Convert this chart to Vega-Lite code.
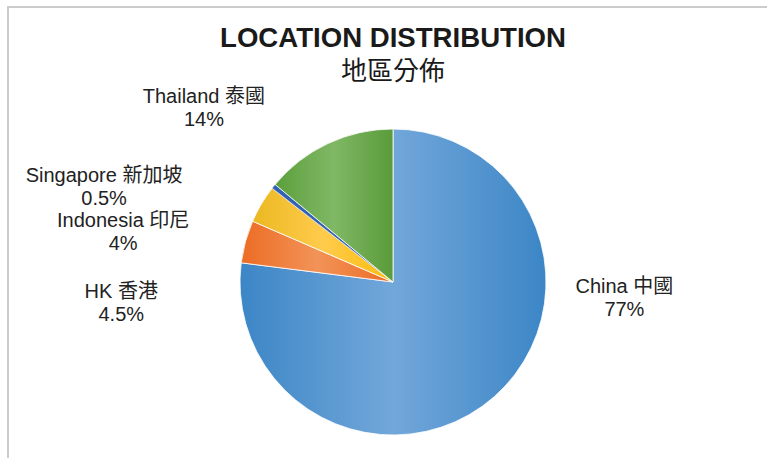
{
  "$schema": "https://vega.github.io/schema/vega-lite/v6.json",
  "autosize": "none",
  "padding": {"left": 8, "top": 7, "right": 0, "bottom": 0},
  "width": 770,
  "height": 550,
  "background": "white",
  "view": {"stroke": "#cccccc", "strokeWidth": 2, "fill": null},
  "title": {
    "text": "LOCATION DISTRIBUTION",
    "subtitle": "地區分佈",
    "anchor": "middle",
    "frame": "group",
    "orient": "top",
    "offset": -78,
    "font": "Liberation Sans",
    "fontSize": 27.6,
    "fontWeight": "bold",
    "color": "#1a1a1a",
    "subtitleFont": "Noto Sans CJK TC",
    "subtitleFontSize": 26,
    "subtitleColor": "#1a1a1a",
    "subtitlePadding": 6
  },
  "data": {
    "values": [
      {"location": "China 中國", "share": 77, "rank": 1},
      {"location": "HK 香港", "share": 4.5, "rank": 2},
      {"location": "Indonesia 印尼", "share": 4, "rank": 3},
      {"location": "Singapore 新加坡", "share": 0.5, "rank": 4},
      {"location": "Thailand 泰國", "share": 14, "rank": 5}
    ]
  },
  "transform": [
    {"stack": "share", "groupby": [], "sort": [{"field": "rank", "order": "ascending"}], "as": ["s0", "s1"]},
    {"calculate": "datum.location + '\\n' + datum.share + '%'", "as": "label"}
  ],
  "layer": [
    {
      "transform": [{"filter": "datum.rank == 1"}],
      "mark": {"type": "arc", "radius": 153, "stroke": "#ffffff", "strokeWidth": 0.8,
        "fill": {"gradient": "linear", "x1": 0, "y1": 0, "x2": 1, "y2": 0, "stops": [{"offset": 0, "color": "#3c86c6"}, {"offset": 0.5, "color": "#72a7da"}, {"offset": 1, "color": "#3c86c6"}]}},
      "encoding": {
        "theta": {"field": "s0", "type": "quantitative", "scale": {"domain": [0, 100]}},
        "theta2": {"field": "s1"}
      }
    },
    {
      "transform": [{"filter": "datum.rank == 2"}],
      "mark": {"type": "arc", "radius": 153, "stroke": "#ffffff", "strokeWidth": 0.8,
        "fill": {"gradient": "linear", "x1": 0, "y1": 0, "x2": 1, "y2": 0, "stops": [{"offset": 0, "color": "#ec6c24"}, {"offset": 0.5, "color": "#f29358"}, {"offset": 1, "color": "#ec6c24"}]}},
      "encoding": {
        "theta": {"field": "s0", "type": "quantitative", "scale": {"domain": [0, 100]}},
        "theta2": {"field": "s1"}
      }
    },
    {
      "transform": [{"filter": "datum.rank == 3"}],
      "mark": {"type": "arc", "radius": 153, "stroke": "#ffffff", "strokeWidth": 0.8,
        "fill": {"gradient": "linear", "x1": 0, "y1": 0, "x2": 1, "y2": 0, "stops": [{"offset": 0, "color": "#ebb822"}, {"offset": 0.5, "color": "#ffcb4c"}, {"offset": 1, "color": "#fbbd0c"}]}},
      "encoding": {
        "theta": {"field": "s0", "type": "quantitative", "scale": {"domain": [0, 100]}},
        "theta2": {"field": "s1"}
      }
    },
    {
      "transform": [{"filter": "datum.rank == 4"}],
      "mark": {"type": "arc", "radius": 153, "stroke": "#ffffff", "strokeWidth": 0.5, "fill": "#3462b2"},
      "encoding": {
        "theta": {"field": "s0", "type": "quantitative", "scale": {"domain": [0, 100]}},
        "theta2": {"field": "s1"}
      }
    },
    {
      "transform": [{"filter": "datum.rank == 5"}],
      "mark": {"type": "arc", "radius": 153, "stroke": "#ffffff", "strokeWidth": 0.8,
        "fill": {"gradient": "linear", "x1": 0, "y1": 0, "x2": 1, "y2": 0, "stops": [{"offset": 0, "color": "#5c9f3c"}, {"offset": 0.5, "color": "#80b865"}, {"offset": 1, "color": "#5a9b3a"}]}},
      "encoding": {
        "theta": {"field": "s0", "type": "quantitative", "scale": {"domain": [0, 100]}},
        "theta2": {"field": "s1"}
      }
    },
    {
      "mark": {
        "type": "text",
        "align": "center",
        "baseline": "middle",
        "dy": -11.5,
        "lineBreak": "\n",
        "lineHeight": 23,
        "font": "Liberation Sans, Noto Sans CJK TC",
        "fontSize": 20,
        "color": "#222222"
      },
      "encoding": {
        "theta": {"field": "share", "type": "quantitative", "stack": true, "scale": {"type": "sqrt", "domain": [0, 100], "range": [-5.2325, 5.8486]}},
        "radius": {"field": "share", "type": "quantitative", "scale": {"type": "log", "domain": [0.5, 77], "range": [304, 232]}},
        "order": {"field": "rank", "type": "quantitative"},
        "text": {"field": "label", "type": "nominal"}
      }
    }
  ],
  "resolve": {"scale": {"theta": "independent", "radius": "independent"}}
}
